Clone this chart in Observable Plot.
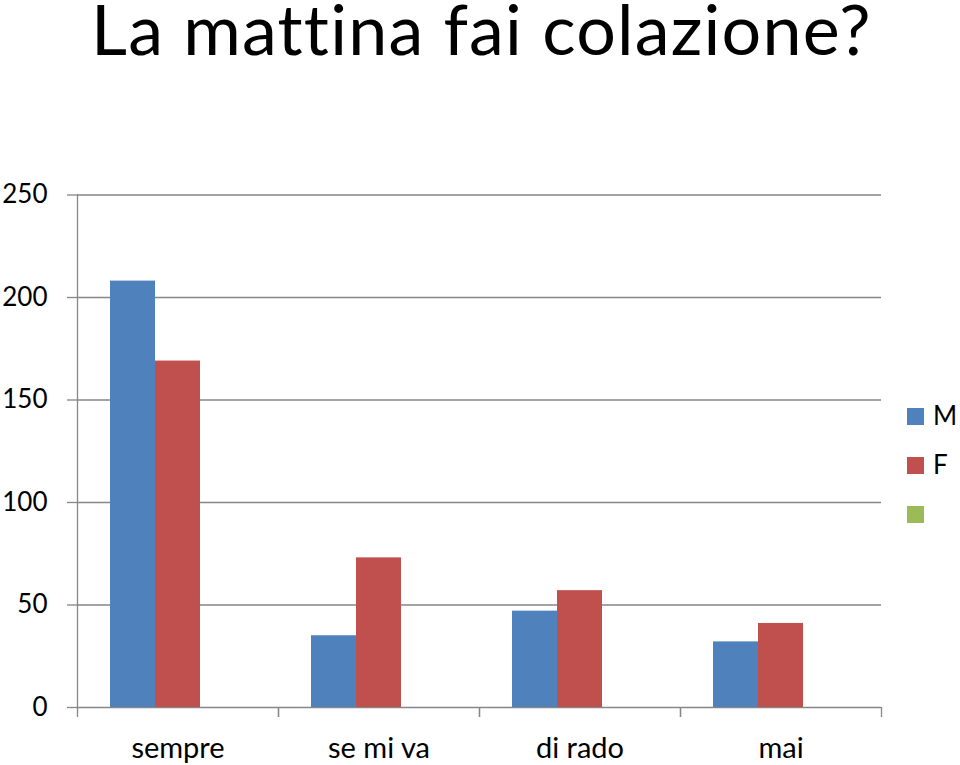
<!DOCTYPE html>
<html>
<head>
<meta charset="utf-8">
<script src="https://cdn.jsdelivr.net/npm/d3@7"></script>
<script src="https://cdn.jsdelivr.net/npm/@observablehq/plot@0.6"></script>
<style>
  html, body { margin: 0; padding: 0; background: #fff; }
  #wrap { position: relative; width: 960px; height: 765px; overflow: hidden; font-family: Lato, "Open Sans", sans-serif; }
  #title { position: absolute; left: 91px; top: 0px; margin: 0; font-size: 70px; font-weight: 400; line-height: 0.8; letter-spacing: 1.2px; white-space: nowrap; color: #000; font-variant-ligatures: none; font-feature-settings: "liga" 0; }
  #chart { position: absolute; left: 0; top: 0; }
  #legend { position: absolute; left: 907px; top: 400px; }
  .item { position: relative; height: 49px; font-size: 26px; line-height: 1; }
  .sw { position: absolute; left: 0; top: 8px; width: 17px; height: 17px; }
  .lb { position: absolute; left: 26px; top: 2px; }
</style>
</head>
<body>
<div id="wrap">
  <div id="chart"></div>
  <h1 id="title"></h1>
  <div id="legend"></div>
</div>
<script>
const titleText = "La mattina fai colazione?";
const categories = ["sempre", "se mi va", "di rado", "mai"];
const seriesNames = ["M", "F", ""];
const valuesM = [208, 35, 47, 32];
const valuesF = [169, 73, 57, 41];
const yTicks = [0, 50, 100, 150, 200, 250];
const seriesColors = ["#4F81BD", "#C0504D", "#9BBB59"];

const data = [];
categories.forEach((c, i) => {
  data.push({category: c, series: "M", value: valuesM[i]});
  data.push({category: c, series: "F", value: valuesF[i]});
});

document.getElementById("title").textContent = titleText;

const gray = "#868686";
const chart = Plot.plot({
  width: 960,
  height: 765,
  marginLeft: 77,
  marginRight: 79,
  marginTop: 194.5,
  marginBottom: 58,
  style: {fontFamily: "Lato, 'Open Sans', sans-serif", background: "transparent", color: "#000"},
  fx: {domain: categories, padding: 0, label: null},
  x: {domain: seriesNames, paddingInner: 0, paddingOuter: 0.7333, axis: null},
  y: {domain: [0, 250], label: null},
  color: {domain: seriesNames, range: seriesColors},
  marks: [
    Plot.gridY(yTicks, {stroke: gray, strokeOpacity: 1, strokeWidth: 1.3}),
    Plot.frame({anchor: "left", stroke: gray, strokeWidth: 1.3, facetAnchor: "left"}),
    Plot.barY(data, {fx: "category", x: "series", y: "value", fill: "series"}),
    Plot.axisY(yTicks, {text: null, tickSize: 10, stroke: gray, strokeWidth: 1.3, label: null}),
    Plot.axisY(yTicks, {tickSize: 0, tickPadding: 30, fontSize: 26, label: null}),
    Plot.axisFx({anchor: "bottom", text: null, tickSize: 10, dx: -100.5, stroke: gray, strokeWidth: 1.3, label: null}),
    Plot.axisFx([categories[categories.length - 1]], {anchor: "bottom", text: null, tickSize: 10, dx: 100.5, stroke: gray, strokeWidth: 1.3, label: null}),
    Plot.axisFx({anchor: "bottom", tickSize: 0, tickPadding: 29.5, fontSize: 29, label: null})
  ]
});
document.getElementById("chart").appendChild(chart);

const legend = document.getElementById("legend");
seriesNames.forEach((s, i) => {
  const item = document.createElement("div");
  item.className = "item";
  const sw = document.createElement("div");
  sw.className = "sw";
  sw.style.background = seriesColors[i];
  const lb = document.createElement("div");
  lb.className = "lb";
  lb.textContent = s;
  item.appendChild(sw);
  item.appendChild(lb);
  legend.appendChild(item);
});
</script>
</body>
</html>
